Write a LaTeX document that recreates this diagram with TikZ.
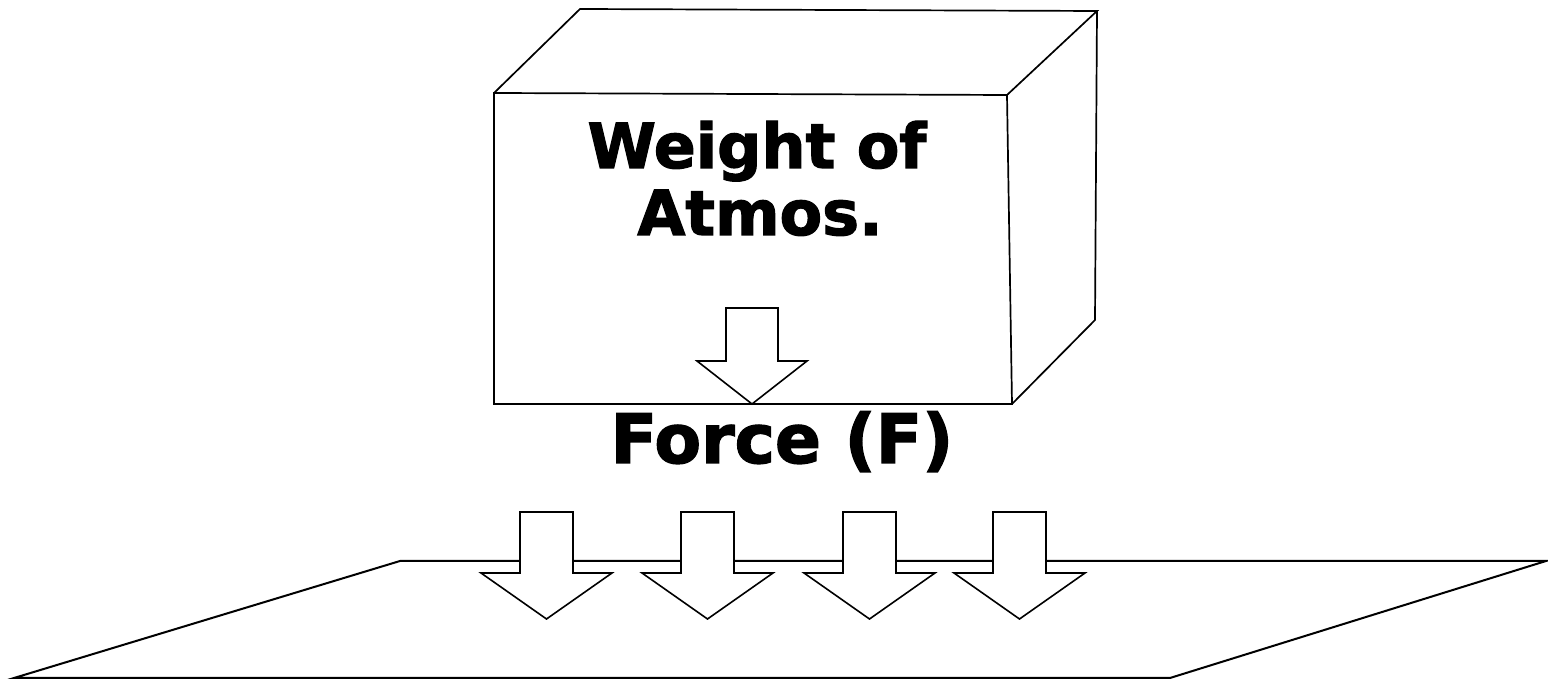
\documentclass[tikz,border=0pt]{standalone}
\usepackage{fontspec}
\newfontfamily\labelfont{DejaVu Sans Bold}[FakeBold=2]

\tikzset{
  boxline/.style={black, line width=0.85pt, line join=miter},
  planeline/.style={black, line width=1pt},
  arrowline/.style={black, fill=white, line width=0.8pt},
  boxtext/.style={font=\labelfont\fontsize{31}{34}\selectfont, inner sep=0pt, anchor=base}
}

% block arrow: x, top, wing, tip, shaft half width, head half width
\newcommand{\fatarrow}[6]{%
  \draw[arrowline] (#1-#5,#2) -- (#1+#5,#2) -- (#1+#5,#3) -- (#1+#6,#3) -- (#1,#4)
    -- (#1-#6,#3) -- (#1-#5,#3) -- cycle;}

\begin{document}
\begin{tikzpicture}[x=0.5pt, y=0.5pt]
  \useasboundingbox (0,0) rectangle (1548,680);

  % ground plane
  \draw[planeline] (14,2) -- (400,119) -- (1546,119) -- (1170,2) -- cycle;

  % box
  \draw[boxline] (494,276) -- (494,587) -- (1007,585) -- (1012,276) -- cycle;
  \draw[boxline] (494,587) -- (580,671) -- (1097,669) -- (1007,585);
  \draw[boxline] (1097,669) -- (1095,360) -- (1012,276);

  % arrow in the box
  \fatarrow{752}{372}{319}{276}{26}{55}

  % arrows on the plane
  \foreach \x in {546.5,707.5,869.5,1019.5} { \fatarrow{\x}{168}{107}{61}{26.5}{65.5} }

  % labels
  \node[boxtext] (weight) at (757,512) {Weight of};
  \node[boxtext] (atmos) at (760,445) {Atmos.};
  \node[boxtext, font=\labelfont\fontsize{34}{36}\selectfont] (force) at (782,217) {Force (F)};
\end{tikzpicture}
\end{document}
